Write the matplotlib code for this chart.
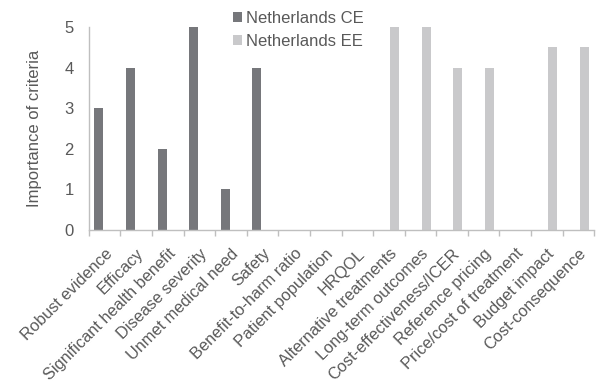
import matplotlib.pyplot as plt
import numpy as np

plt.rcParams['font.family'] = ['Liberation Sans', 'DejaVu Sans']

criteria = ['Robust evidence', 'Efficacy', 'Significant health benefit', 'Disease severity',
            'Unmet medical need', 'Safety', 'Benefit-to-harm ratio', 'Patient population',
            'HRQOL', 'Alternative treatments', 'Long-term outcomes', 'Cost-effectiveness/ICER',
            'Reference pricing', 'Price/cost of treatment', 'Budget impact', 'Cost-consequence']
nl_ce = [3, 4, 2, 5, 1, 4, 0, 0, 0, 0, 0, 0, 0, 0, 0, 0]
nl_ee = [0, 0, 0, 0, 0, 0, 0, 0, 0, 5, 5, 4, 4, 0, 4.5, 4.5]

txt = '#595959'
axis_col = '#BFBFBF'

fig = plt.figure(figsize=(5.96, 3.84), dpi=100)
ax = fig.add_axes([0.149, 0.401, 0.848, 0.529])

x = np.arange(len(criteria))
w = 0.29
ax.bar(x - 0.18, nl_ce, w, color='#76777B', label='Netherlands CE')
ax.bar(x + 0.18, nl_ee, w, color='#C9C9CB', label='Netherlands EE')

ax.set_xlim(-0.5, len(criteria) - 0.5)
ax.set_ylim(0, 5)
ax.set_yticks(range(6))
ax.tick_params(axis='y', length=0, labelsize=12, labelcolor=txt, pad=11)
ax.set_ylabel('Importance of criteria', fontsize=12, color=txt, labelpad=16)

# category labels at centres, tick marks on the boundaries
ax.set_xticks(x)
ax.set_xticklabels(criteria, rotation=45, ha='right', rotation_mode='anchor',
                   fontsize=11.8, color=txt)
ax.tick_params(axis='x', length=0, pad=11.5)
ax.set_xticks(np.arange(-0.5, len(criteria)), minor=True)
ax.tick_params(axis='x', which='minor', length=4, color=axis_col, width=1)

for s in ['top', 'right']:
    ax.spines[s].set_visible(False)
for s in ['left', 'bottom']:
    ax.spines[s].set_color(axis_col)
    ax.spines[s].set_linewidth(1)

ax.legend(loc='upper left', bbox_to_anchor=(0.285, 1.08), frameon=False,
          fontsize=12, labelcolor=txt, handlelength=0.55, handleheight=0.55,
          handletextpad=0.25, labelspacing=0.5, borderaxespad=0, borderpad=0)

fig.savefig('out.png', dpi=100)
